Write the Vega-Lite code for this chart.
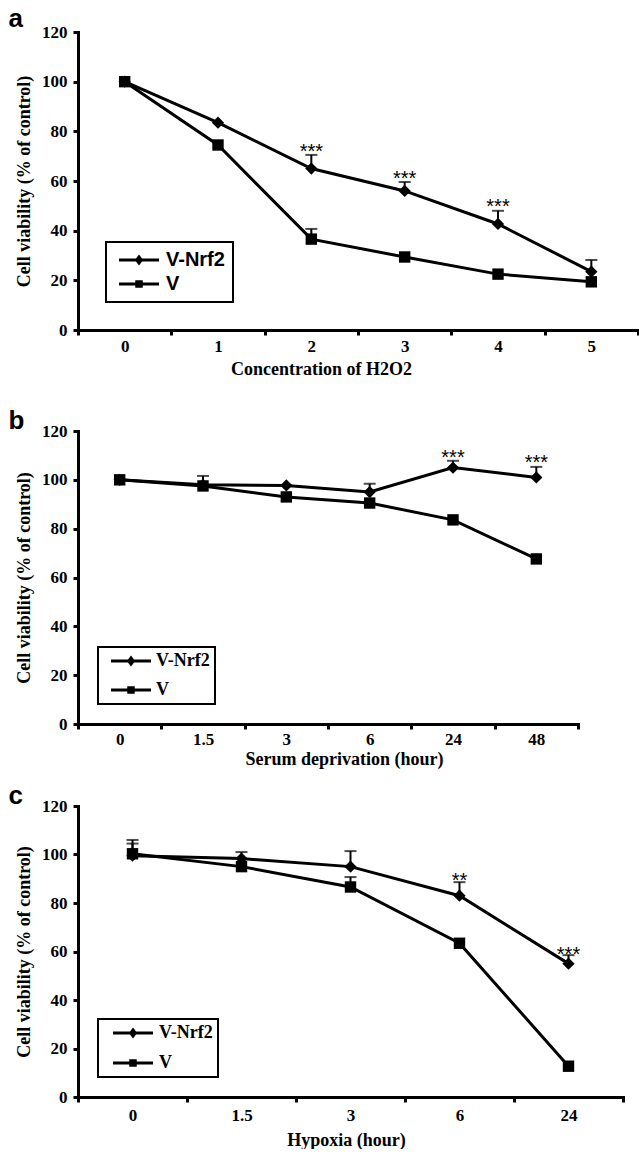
{
  "$schema": "https://vega.github.io/schema/vega-lite/v6.json",
  "padding": {"left": 8, "top": 6, "right": 0, "bottom": 0},
  "spacing": 15,
  "resolve": {"scale": {"color": "independent", "x": "independent", "y": "independent"}, "legend": {"color": "independent"}},
  "config": {
    "view": {"stroke": null},
    "axis": {
      "domainColor": "black", "domainWidth": 3, "domainCap": "square",
      "tickColor": "black", "tickWidth": 3, "tickSize": 5,
      "labelFont": "Liberation Serif", "labelFontWeight": "bold", "labelFontSize": 17, "labelColor": "black",
      "titleFont": "Liberation Serif", "titleFontWeight": "bold", "titleFontSize": 18, "titleColor": "black",
      "grid": false
    },
    "title": {"font": "Liberation Sans", "fontSize": 26, "fontWeight": "bold", "anchor": "start", "frame": "bounds", "color": "black", "baseline": "alphabetic"}
  },
  "vconcat": [
    {
      "width": 560, "height": 298,
      "title": {"text": "a", "dx": -7, "offset": -9},
      "data": {"values": [
        {"i": 0, "x": "0", "series": "V-Nrf2", "v": 100, "hi": null, "star": null, "sy": null},
        {"i": 1, "x": "1", "series": "V-Nrf2", "v": 83.5, "hi": null, "star": null, "sy": null},
        {"i": 2, "x": "2", "series": "V-Nrf2", "v": 65, "hi": 70.5, "star": "***", "sy": 73.6},
        {"i": 3, "x": "3", "series": "V-Nrf2", "v": 56, "hi": 59.6, "star": "***", "sy": 63},
        {"i": 4, "x": "4", "series": "V-Nrf2", "v": 42.7, "hi": 48, "star": "***", "sy": 51.5},
        {"i": 5, "x": "5", "series": "V-Nrf2", "v": 23.5, "hi": 28.2, "star": null, "sy": null},
        {"i": 0, "x": "0", "series": "V", "v": 100, "hi": null, "star": null, "sy": null},
        {"i": 1, "x": "1", "series": "V", "v": 74.5, "hi": null, "star": null, "sy": null},
        {"i": 2, "x": "2", "series": "V", "v": 36.6, "hi": 40.7, "star": null, "sy": null},
        {"i": 3, "x": "3", "series": "V", "v": 29.4, "hi": null, "star": null, "sy": null},
        {"i": 4, "x": "4", "series": "V", "v": 22.5, "hi": null, "star": null, "sy": null},
        {"i": 5, "x": "5", "series": "V", "v": 19.4, "hi": null, "star": null, "sy": null}
      ]},
      "encoding": {
        "x": {"field": "x", "type": "ordinal",
          "scale": {"type": "band", "paddingInner": 0, "paddingOuter": 0, "domain": ["0", "1", "2", "3", "4", "5"]},
          "axis": {"title": ["Concentration of H2O2", " "], "titleLineHeight": 15, "labelAngle": 0, "tickBand": "extent", "labelPadding": 3, "titlePadding": 6, "titleX": 243}},
        "y": {"field": "v", "type": "quantitative",
          "scale": {"domain": [0, 120], "nice": false},
          "axis": {"values": [0, 20, 40, 60, 80, 100, 120], "title": "Cell viability (% of control)", "labelPadding": 6, "titlePadding": 8}}
      },
      "layer": [
        {"transform": [{"filter": "datum.hi != null"}], "mark": {"type": "rule", "color": "black", "strokeWidth": 2}, "encoding": {"y2": {"field": "hi"}}},
        {"transform": [{"filter": "datum.hi != null"}], "mark": {"type": "tick", "color": "black", "size": 12, "thickness": 2, "orient": "horizontal"}, "encoding": {"y": {"field": "hi", "type": "quantitative"}}},
        {"mark": {"type": "line", "strokeWidth": 3},
          "encoding": {
            "order": {"field": "i", "type": "quantitative"},
            "color": {"field": "series", "type": "nominal", "scale": {"domain": ["V-Nrf2", "V"], "range": ["black", "black"]},
              "legend": {"orient": "bottom-left", "offset": 28, "title": null, "strokeColor": "black", "padding": 8,
                "labelFont": "Liberation Sans", "labelFontSize": 20, "labelFontWeight": "bold", "labelColor": "black",
                "rowPadding": 4, "symbolSize": 100, "symbolStrokeWidth": 3, "symbolOffset": 15, "labelOffset": 17,
                "encode": {
                  "legend": {"update": {"strokeWidth": {"value": 2}}},
                  "symbols": {"update": {
                    "shape": {"signal": "datum.value === 'V' ? 'M-4,0H4M-0.45,-0.45H0.45V0.45H-0.45Z' : 'M-4,0H4M0,-0.6L0.45,0L0,0.6L-0.45,0Z'"},
                    "fill": {"value": "black"}, "stroke": {"value": "black"}, "strokeWidth": {"value": 3}, "opacity": {"value": 1}}}
                }}}
          }},
        {"transform": [{"filter": "datum.series === 'V-Nrf2'"}], "mark": {"type": "point", "filled": true, "opacity": 1, "color": "black", "shape": "diamond", "size": 150}},
        {"transform": [{"filter": "datum.series === 'V'"}], "mark": {"type": "point", "filled": true, "opacity": 1, "color": "black", "shape": "square", "size": 130}},
        {"transform": [{"filter": "datum.star != null"}], "mark": {"type": "text", "font": "Liberation Sans", "fontSize": 20, "color": "black", "baseline": "alphabetic", "dy": 11},
          "encoding": {"y": {"field": "sy", "type": "quantitative"}, "text": {"field": "star"}}}
      ]
    },
    {
      "width": 500, "height": 293,
      "title": {"text": "b", "dx": -7, "offset": -12},
      "data": {"values": [
        {"i": 0, "x": "0", "series": "V-Nrf2", "v": 100, "hi": null, "star": null, "sy": null},
        {"i": 1, "x": "1.5", "series": "V-Nrf2", "v": 98, "hi": 101.6, "star": null, "sy": null},
        {"i": 2, "x": "3", "series": "V-Nrf2", "v": 97.7, "hi": null, "star": null, "sy": null},
        {"i": 3, "x": "6", "series": "V-Nrf2", "v": 95, "hi": 98.4, "star": null, "sy": null},
        {"i": 4, "x": "24", "series": "V-Nrf2", "v": 105, "hi": 107.8, "star": "***", "sy": 111},
        {"i": 5, "x": "48", "series": "V-Nrf2", "v": 101, "hi": 105.3, "star": "***", "sy": 109},
        {"i": 0, "x": "0", "series": "V", "v": 100, "hi": null, "star": null, "sy": null},
        {"i": 1, "x": "1.5", "series": "V", "v": 97.5, "hi": null, "star": null, "sy": null},
        {"i": 2, "x": "3", "series": "V", "v": 93, "hi": null, "star": null, "sy": null},
        {"i": 3, "x": "6", "series": "V", "v": 90.5, "hi": null, "star": null, "sy": null},
        {"i": 4, "x": "24", "series": "V", "v": 83.6, "hi": null, "star": null, "sy": null},
        {"i": 5, "x": "48", "series": "V", "v": 67.6, "hi": null, "star": null, "sy": null}
      ]},
      "encoding": {
        "x": {"field": "x", "type": "ordinal",
          "scale": {"type": "band", "paddingInner": 0, "paddingOuter": 0, "domain": ["0", "1.5", "3", "6", "24", "48"]},
          "axis": {"title": "Serum deprivation (hour)", "labelAngle": 0, "tickBand": "extent", "labelPadding": 2, "titlePadding": 3, "titleX": 266}},
        "y": {"field": "v", "type": "quantitative",
          "scale": {"domain": [0, 120], "nice": false},
          "axis": {"values": [0, 20, 40, 60, 80, 100, 120], "title": "Cell viability (% of control)", "labelPadding": 6, "titlePadding": 8}}
      },
      "layer": [
        {"transform": [{"filter": "datum.hi != null"}], "mark": {"type": "rule", "color": "black", "strokeWidth": 2}, "encoding": {"y2": {"field": "hi"}}},
        {"transform": [{"filter": "datum.hi != null"}], "mark": {"type": "tick", "color": "black", "size": 12, "thickness": 2, "orient": "horizontal"}, "encoding": {"y": {"field": "hi", "type": "quantitative"}}},
        {"mark": {"type": "line", "strokeWidth": 3},
          "encoding": {
            "order": {"field": "i", "type": "quantitative"},
            "color": {"field": "series", "type": "nominal", "scale": {"domain": ["V-Nrf2", "V"], "range": ["black", "black"]},
              "legend": {"orient": "bottom-left", "offset": 20, "title": null, "strokeColor": "black", "padding": 5,
                "labelFont": "Liberation Serif", "labelFontSize": 18, "labelFontWeight": "bold", "labelColor": "black",
                "rowPadding": 11, "symbolSize": 100, "symbolStrokeWidth": 3, "symbolOffset": 19, "labelOffset": 16,
                "encode": {
                  "legend": {"update": {"strokeWidth": {"value": 2}}},
                  "symbols": {"update": {
                    "shape": {"signal": "datum.value === 'V' ? 'M-4,0H4M-0.45,-0.45H0.45V0.45H-0.45Z' : 'M-4,0H4M0,-0.6L0.45,0L0,0.6L-0.45,0Z'"},
                    "fill": {"value": "black"}, "stroke": {"value": "black"}, "strokeWidth": {"value": 3}, "opacity": {"value": 1}}}
                }}}
          }},
        {"transform": [{"filter": "datum.series === 'V-Nrf2'"}], "mark": {"type": "point", "filled": true, "opacity": 1, "color": "black", "shape": "diamond", "size": 150}},
        {"transform": [{"filter": "datum.series === 'V'"}], "mark": {"type": "point", "filled": true, "opacity": 1, "color": "black", "shape": "square", "size": 130}},
        {"transform": [{"filter": "datum.star != null"}], "mark": {"type": "text", "font": "Liberation Sans", "fontSize": 20, "color": "black", "baseline": "alphabetic", "dy": 11},
          "encoding": {"y": {"field": "sy", "type": "quantitative"}, "text": {"field": "star"}}}
      ]
    },
    {
      "width": 545, "height": 291,
      "title": {"text": "c", "dx": -7, "offset": -12},
      "data": {"values": [
        {"i": 0, "x": "0", "series": "V-Nrf2", "v": 99.5, "hi": 106, "star": null, "sy": null},
        {"i": 1, "x": "1.5", "series": "V-Nrf2", "v": 98.3, "hi": 101, "star": null, "sy": null},
        {"i": 2, "x": "3", "series": "V-Nrf2", "v": 95, "hi": 101.4, "star": null, "sy": null},
        {"i": 3, "x": "6", "series": "V-Nrf2", "v": 83, "hi": 88.6, "star": "**", "sy": 91.2},
        {"i": 4, "x": "24", "series": "V-Nrf2", "v": 55, "hi": 58.5, "star": "***", "sy": 60.6},
        {"i": 0, "x": "0", "series": "V", "v": 100.3, "hi": 104.5, "star": null, "sy": null},
        {"i": 1, "x": "1.5", "series": "V", "v": 95, "hi": null, "star": null, "sy": null},
        {"i": 2, "x": "3", "series": "V", "v": 86.6, "hi": 90.7, "star": null, "sy": null},
        {"i": 3, "x": "6", "series": "V", "v": 63.4, "hi": null, "star": null, "sy": null},
        {"i": 4, "x": "24", "series": "V", "v": 12.7, "hi": null, "star": null, "sy": null}
      ]},
      "encoding": {
        "x": {"field": "x", "type": "ordinal",
          "scale": {"type": "band", "paddingInner": 0, "paddingOuter": 0, "domain": ["0", "1.5", "3", "6", "24"]},
          "axis": {"title": "Hypoxia (hour)", "labelAngle": 0, "tickBand": "extent", "labelPadding": 5, "titlePadding": 8, "titleX": 268}},
        "y": {"field": "v", "type": "quantitative",
          "scale": {"domain": [0, 120], "nice": false},
          "axis": {"values": [0, 20, 40, 60, 80, 100, 120], "title": "Cell viability (% of control)", "labelPadding": 6, "titlePadding": 8}}
      },
      "layer": [
        {"transform": [{"filter": "datum.hi != null"}], "mark": {"type": "rule", "color": "black", "strokeWidth": 2}, "encoding": {"y2": {"field": "hi"}}},
        {"transform": [{"filter": "datum.hi != null"}], "mark": {"type": "tick", "color": "black", "size": 12, "thickness": 2, "orient": "horizontal"}, "encoding": {"y": {"field": "hi", "type": "quantitative"}}},
        {"mark": {"type": "line", "strokeWidth": 3},
          "encoding": {
            "order": {"field": "i", "type": "quantitative"},
            "color": {"field": "series", "type": "nominal", "scale": {"domain": ["V-Nrf2", "V"], "range": ["black", "black"]},
              "legend": {"orient": "bottom-left", "offset": 20, "title": null, "strokeColor": "black", "padding": 5,
                "labelFont": "Liberation Serif", "labelFontSize": 18, "labelFontWeight": "bold", "labelColor": "black",
                "rowPadding": 12, "symbolSize": 100, "symbolStrokeWidth": 3, "symbolOffset": 21, "labelOffset": 17,
                "encode": {
                  "legend": {"update": {"strokeWidth": {"value": 2}}},
                  "symbols": {"update": {
                    "shape": {"signal": "datum.value === 'V' ? 'M-4,0H4M-0.45,-0.45H0.45V0.45H-0.45Z' : 'M-4,0H4M0,-0.6L0.45,0L0,0.6L-0.45,0Z'"},
                    "fill": {"value": "black"}, "stroke": {"value": "black"}, "strokeWidth": {"value": 3}, "opacity": {"value": 1}}}
                }}}
          }},
        {"transform": [{"filter": "datum.series === 'V-Nrf2'"}], "mark": {"type": "point", "filled": true, "opacity": 1, "color": "black", "shape": "diamond", "size": 150}},
        {"transform": [{"filter": "datum.series === 'V'"}], "mark": {"type": "point", "filled": true, "opacity": 1, "color": "black", "shape": "square", "size": 130}},
        {"transform": [{"filter": "datum.star != null"}], "mark": {"type": "text", "font": "Liberation Sans", "fontSize": 20, "color": "black", "baseline": "alphabetic", "dy": 11},
          "encoding": {"y": {"field": "sy", "type": "quantitative"}, "text": {"field": "star"}}}
      ]
    }
  ]
}
